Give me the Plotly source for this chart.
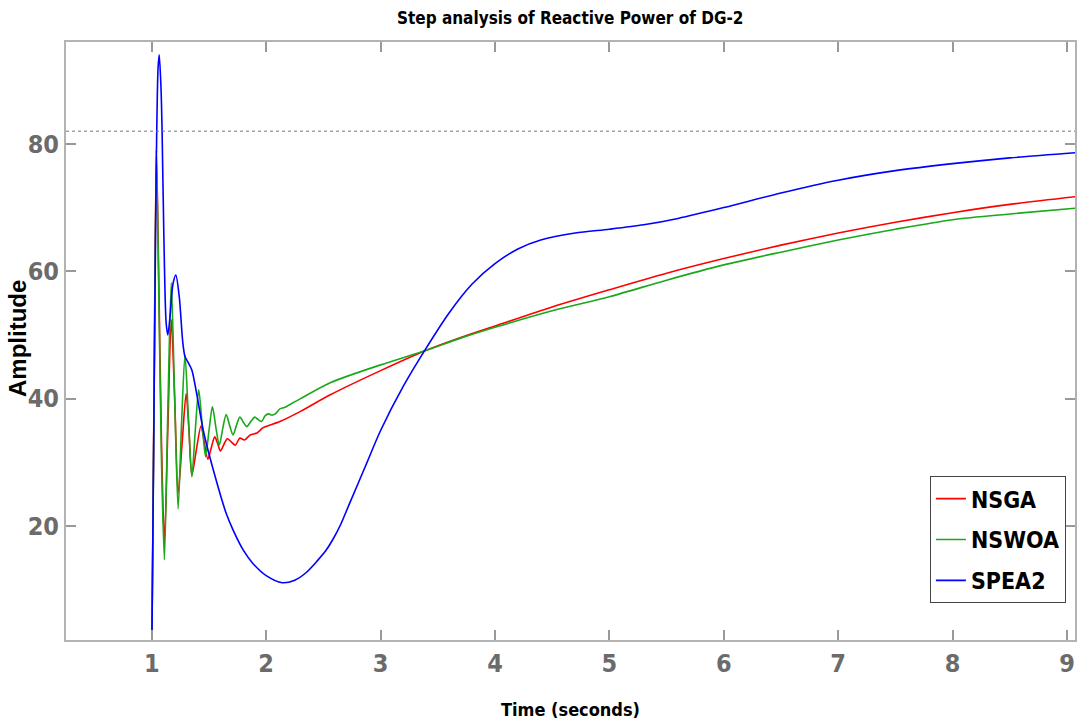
import plotly.graph_objects as go

# NSGA (red)
nsga_t = [1.0, 1.02, 1.04, 1.06, 1.085, 1.11, 1.14, 1.17, 1.20, 1.23, 1.265, 1.30, 1.325, 1.35,
          1.39, 1.43, 1.46, 1.49, 1.52, 1.55, 1.575, 1.60, 1.63, 1.66, 1.695, 1.73, 1.77, 1.81,
          1.86, 1.92, 1.97, 2.12, 2.3, 2.56, 3.0, 3.4, 3.7, 4.0, 4.5, 5.0, 5.5, 6.0, 6.5, 7.0,
          7.5, 8.0, 8.5, 9.07]
nsga_y = [0, 42, 79, 60, 33, 17.5, 35, 52.4, 40, 25.2, 33, 40.8, 35, 28,
          32, 35.7, 33, 30.5, 32.3, 34, 33, 31.8, 32.8, 33.7, 33.2, 32.7, 33.8, 33.5,
          34.3, 34.6, 35.4, 36.4, 38.0, 40.6, 44.4, 47.6, 49.6, 51.4, 54.4, 57.1, 59.7, 62.0, 64.1, 66.0,
          67.7, 69.2, 70.5, 71.7]

# NSWOA (green)
nswoa_t = [1.0, 1.02, 1.04, 1.06, 1.085, 1.11, 1.14, 1.17, 1.20, 1.23, 1.26, 1.29, 1.32, 1.35,
           1.38, 1.41, 1.44, 1.47, 1.50, 1.53, 1.56, 1.59, 1.62, 1.65, 1.68, 1.71, 1.74, 1.77,
           1.80, 1.83, 1.865, 1.90, 1.93, 1.96, 1.99, 2.02, 2.05, 2.08, 2.12, 2.16, 2.2, 2.3,
           2.56, 3.0, 3.4, 3.7, 4.0, 4.5, 5.0, 5.5, 6.0, 6.5, 7.0, 7.5, 8.0, 8.5, 9.07]
nswoa_y = [0, 40, 78, 58, 30, 14.7, 38, 58.2, 40, 22.7, 36, 46.9, 37, 27.7,
           35, 41.4, 36, 30.9, 35, 38.7, 35.5, 32.7, 35.3, 37.5, 35.8, 34.3, 35.8, 37.1,
           36.3, 35.6, 36.4, 37.1, 36.7, 36.4, 37.3, 37.6, 37.4, 37.6, 38.4, 38.6, 39.0, 40.0,
           42.5, 45.3, 47.6, 49.5, 51.2, 53.8, 56.0, 58.6, 61.0, 63.0, 64.9, 66.6, 68.1, 69.0, 69.9]

# SPEA2 (blue)
spea2_t = [1.0, 1.02, 1.04, 1.055, 1.065, 1.08, 1.09, 1.105, 1.125, 1.14, 1.16, 1.185, 1.21, 1.24,
           1.27, 1.29, 1.32, 1.35, 1.40, 1.45, 1.55, 1.65, 1.71, 1.8, 1.88, 2.0, 2.14, 2.25,
           2.35, 2.45, 2.52, 2.58, 2.65, 2.73, 2.87, 3.0, 3.2, 3.39, 3.6, 3.8, 4.0, 4.2, 4.4, 4.7, 5.0,
           5.3, 5.6, 6.0, 6.5, 7.0, 7.5, 8.0, 8.5, 9.07]
spea2_y = [0, 40, 78, 92, 94, 89, 82, 66, 52, 50, 53, 58, 59.4, 56,
           49, 46.6, 45.6, 44.5, 40, 35, 28, 22, 19.4, 16.2, 14.2, 12.2, 11.1, 11.5,
           12.7, 14.6, 16.1, 17.8, 20.2, 23.6, 29.5, 35, 42, 47.7, 53.5, 58, 61.2, 63.5, 64.9, 66, 66.6,
           67.3, 68.3, 70, 72.3, 74.3, 75.8, 76.9, 77.8, 78.6]

ref_level = 82.0
x_ticks = [1, 2, 3, 4, 5, 6, 7, 8, 9]
y_ticks = [20, 40, 60, 80]

NARROW = "DejaVu Sans Condensed, Liberation Sans Narrow, sans-serif"

fig = go.Figure()
series = [("NSGA", nsga_t, nsga_y, "#ff0000"),
          ("NSWOA", nswoa_t, nswoa_y, "#1aa81a"),
          ("SPEA2", spea2_t, spea2_y, "#0000ff")]
for name, t, y, c in series:
    fig.add_trace(go.Scatter(x=t, y=y, mode="lines", name=name, legendgroup=name,
                             line=dict(color=c, width=1.6, shape="spline", smoothing=0.8)))

fig.add_shape(type="line", xref="paper", yref="y", x0=0, x1=1, y0=ref_level, y1=ref_level,
              line=dict(color="#777777", width=1, dash="dot"))

axis_common = dict(showline=True, linecolor="#b3b3b3", linewidth=2, mirror="ticks",
                   ticks="inside", ticklen=10, tickcolor="#999999", tickwidth=1.5,
                   showgrid=False, zeroline=False, automargin=False,
                   tickfont=dict(family=NARROW, size=25, color="#6b6b6b", weight="bold"))

fig.update_xaxes(range=[0.25, 9.07], tickvals=x_ticks, ticktext=[str(v) for v in x_ticks],
                 **axis_common)
fig.update_yaxes(range=[2.1, 96], tickvals=y_ticks, ticktext=[str(v) for v in y_ticks],
                 **axis_common)

fig.add_annotation(text="<b>Time (seconds)</b>", xref="paper", yref="paper", x=0.50, y=-0.117,
                   xanchor="center", yanchor="middle", showarrow=False,
                   font=dict(family=NARROW, size=18, color="#000000"))
fig.add_annotation(text="<b>Amplitude</b>", xref="paper", yref="paper", x=-0.0486, y=0.505,
                   xanchor="center", yanchor="middle", showarrow=False, textangle=-90,
                   font=dict(family="Liberation Sans, Arial, sans-serif", size=24, color="#000000"))

fig.update_layout(
    width=1082, height=726,
    margin=dict(l=66, r=7, t=42, b=86),
    paper_bgcolor="white", plot_bgcolor="white",
    title=dict(text="<b>Step analysis of Reactive Power of DG-2</b>", x=0.527, xanchor="center",
               y=0.975, yanchor="middle",
               font=dict(family=NARROW, size=17, color="#000000")),
    legend=dict(x=0.991, y=0.274, xanchor="right", yanchor="top",
                bgcolor="white", bordercolor="#444444", borderwidth=1,
                font=dict(family=NARROW, size=23, color="#000000", weight="bold"),
                tracegroupgap=8),
    showlegend=True,
)

fig.write_html("out.html")
